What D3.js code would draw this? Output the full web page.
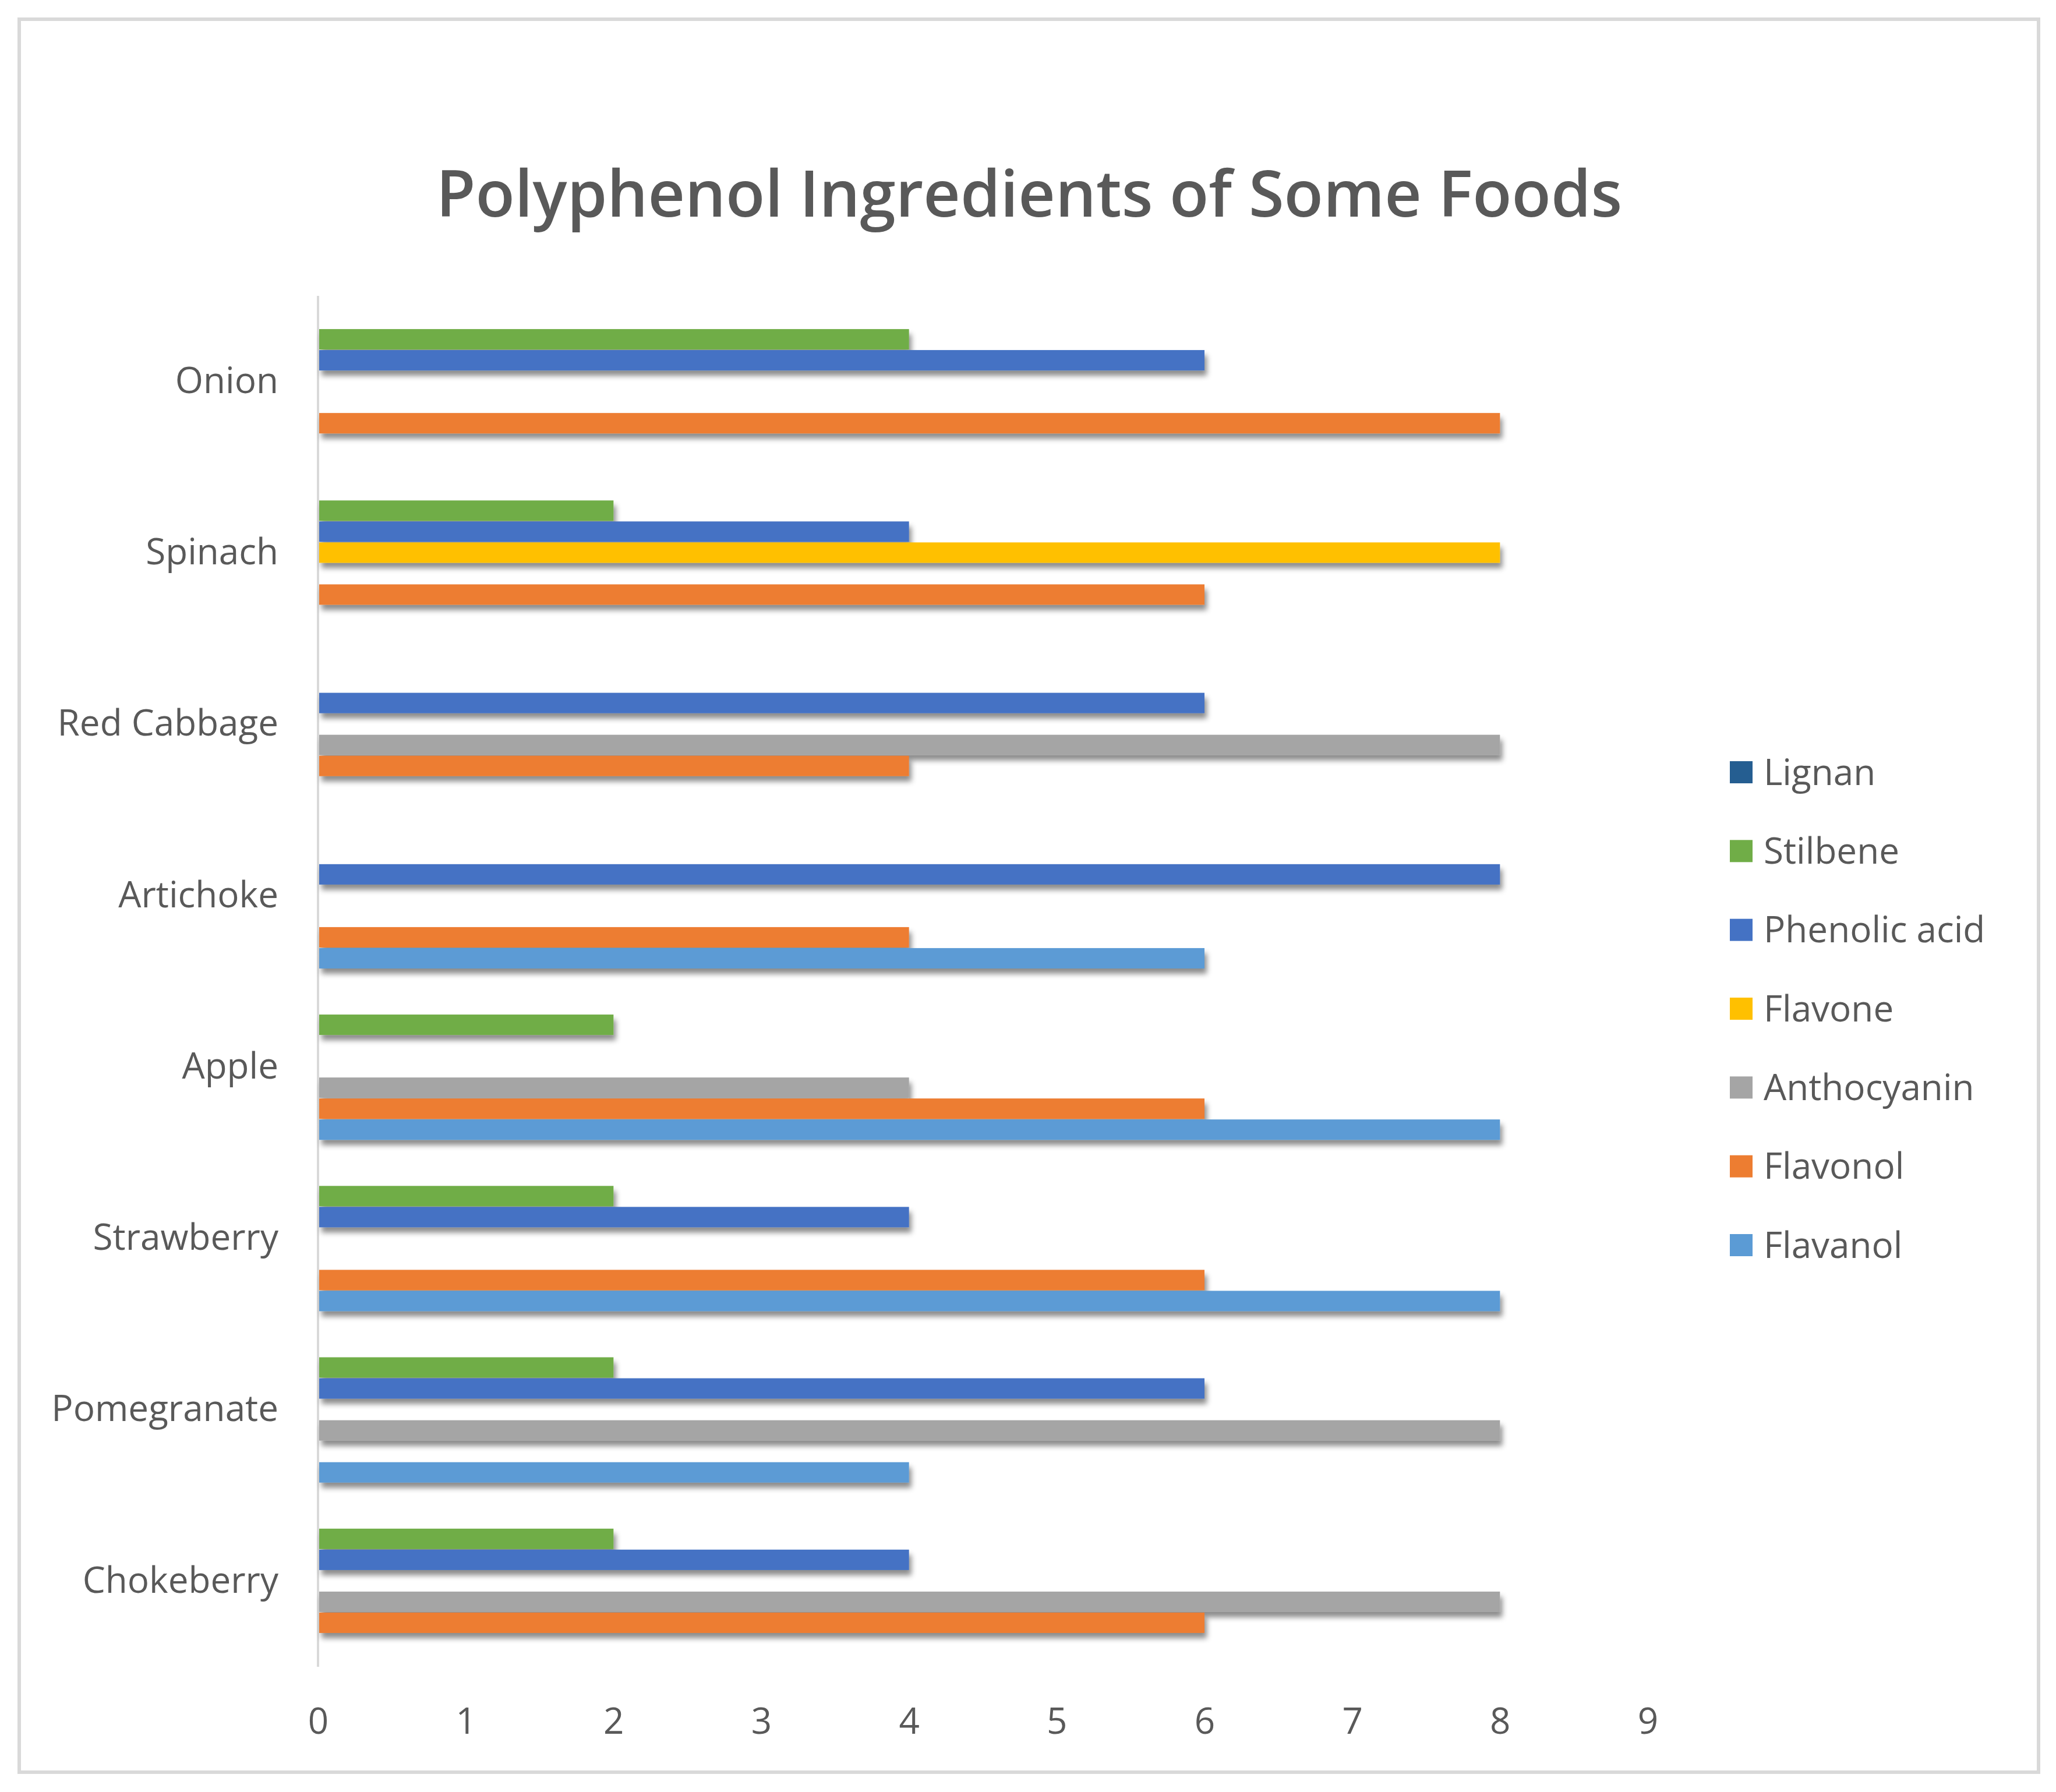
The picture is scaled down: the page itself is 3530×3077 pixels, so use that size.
<!DOCTYPE html>
<html>
<head>
<meta charset="utf-8">
<script src="https://cdn.jsdelivr.net/npm/d3@7"></script>
<style>
  html, body { margin: 0; padding: 0; background: #ffffff; }
  svg { display: block; }
</style>
</head>
<body>
<svg id="chart" width="3530" height="3077"></svg>
<script>
// ---------- DATA ----------
const title = "Polyphenol Ingredients of Some Foods";
// categories from top to bottom as shown
const categories = ["Onion", "Spinach", "Red Cabbage", "Artichoke", "Apple", "Strawberry", "Pomegranate", "Chokeberry"];
// series, in legend order (top to bottom)
const seriesNames = ["Lignan", "Stilbene", "Phenolic acid", "Flavone", "Anthocyanin", "Flavonol", "Flavanol"];
const seriesColors = ["#255E91", "#70AD47", "#4472C4", "#FFC000", "#A5A5A5", "#ED7D31", "#5B9BD5"];
// values per series, aligned with categories (0 = no bar)
const lignan       = [0, 0, 0, 0, 0, 0, 0, 0];
const stilbene     = [4, 2, 0, 0, 2, 2, 2, 2];
const phenolicAcid = [6, 4, 6, 8, 0, 4, 6, 4];
const flavone      = [0, 8, 0, 0, 0, 0, 0, 0];
const anthocyanin  = [0, 0, 8, 0, 4, 0, 8, 8];
const flavonol     = [8, 6, 4, 4, 6, 6, 0, 6];
const flavanol     = [0, 0, 0, 6, 8, 8, 4, 0];
const seriesValues = [lignan, stilbene, phenolicAcid, flavone, anthocyanin, flavonol, flavanol];
const xTicks = [0, 1, 2, 3, 4, 5, 6, 7, 8, 9];

// ---------- LAYOUT ----------
const W = 3530, H = 3077;
const textColor = "#595959";
const font = "'Open Sans', 'Noto Sans', sans-serif";
const svg = d3.select("#chart");

// outer frame
svg.append("rect")
  .attr("x", 33).attr("y", 33).attr("width", 3467).attr("height", 3010)
  .attr("fill", "#ffffff").attr("stroke", "#d9d9d9").attr("stroke-width", 6);

// shadow filter
const defs = svg.append("defs");
const f = defs.append("filter").attr("id", "shadow")
  .attr("x", "-5%").attr("y", "-50%").attr("width", "110%").attr("height", "250%");
f.append("feDropShadow").attr("dx", 4).attr("dy", 9).attr("stdDeviation", 5)
  .attr("flood-color", "#000").attr("flood-opacity", 0.45);

// scales
const x = d3.scaleLinear().domain([0, 9]).range([546, 2829]);
const y = d3.scaleBand().domain(categories).range([508, 2862]).paddingInner(0.143).paddingOuter(0.0715);
const ySub = d3.scaleBand().domain(seriesNames).range([0, y.bandwidth()]).padding(0);

// title
const t = svg.append("text")
  .attr("x", 1767).attr("y", 372)
  .attr("text-anchor", "middle")
  .attr("font-family", font).attr("font-weight", 600)
  .attr("font-size", 110).attr("fill", textColor)
  .text(title);
const tw = t.node().getComputedTextLength();
t.attr("font-size", 110 * 2037 / tw);

// y axis line
svg.append("line")
  .attr("x1", x(0)).attr("x2", x(0))
  .attr("y1", 508).attr("y2", 2862)
  .attr("stroke", "#d9d9d9").attr("stroke-width", 4);

// bars
const groups = svg.append("g").selectAll("g")
  .data(categories)
  .join("g")
  .attr("transform", d => `translate(0,${y(d)})`);

groups.each(function(cat, ci) {
  const g = d3.select(this);
  const data = seriesNames.map((s, si) => ({ s, v: seriesValues[si][ci], c: seriesColors[si] }))
    .filter(d => d.v > 0);
  g.selectAll("rect")
    .data(data)
    .join("rect")
    .attr("x", x(0) + 2)
    .attr("y", d => ySub(d.s))
    .attr("width", d => x(d.v) - x(0) - 2)
    .attr("height", ySub.bandwidth() - 1)
    .attr("fill", d => d.c)
    .attr("filter", "url(#shadow)");
});

// category labels
const yAxis = d3.axisLeft(y).tickSize(0).tickPadding(68);
const ya = svg.append("g").attr("transform", `translate(${x(0)},0)`).call(yAxis);
ya.select(".domain").remove();
ya.selectAll("text")
  .attr("font-family", font).attr("font-size", 62).attr("fill", textColor);

// x tick labels
const xAxis = d3.axisBottom(x).tickValues(xTicks).tickSize(0).tickPadding(0).tickFormat(d3.format("d"));
const xa = svg.append("g").attr("transform", "translate(0,2955)").call(xAxis);
xa.select(".domain").remove();
xa.selectAll("text")
  .attr("dy", "0.35em")
  .attr("font-family", font).attr("font-size", 62).attr("fill", textColor);

// legend
const legendY = d3.scalePoint().domain(seriesNames).range([1326, 2138]);
const lg = svg.append("g").selectAll("g")
  .data(seriesNames)
  .join("g")
  .attr("transform", d => `translate(2970,${legendY(d)})`);
lg.append("rect")
  .attr("x", 0).attr("y", -19).attr("width", 39).attr("height", 38)
  .attr("fill", (d, i) => seriesColors[i]);
lg.append("text")
  .attr("x", 58).attr("dy", "0.35em")
  .attr("font-family", font).attr("font-size", 62).attr("fill", textColor)
  .text(d => d);
</script>
</body>
</html>
